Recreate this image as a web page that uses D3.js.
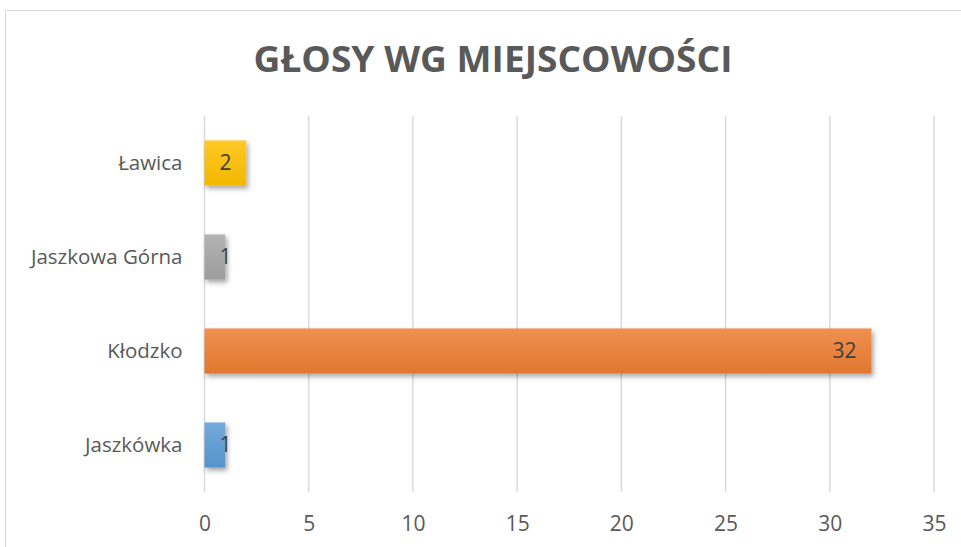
<!DOCTYPE html>
<html>
<head>
<meta charset="utf-8">
<script src="https://cdn.jsdelivr.net/npm/d3@7"></script>
<style>
  body { margin: 0; background: #fff; }
  svg { display: block; }
</style>
</head>
<body>
<svg id="chart"></svg>
<script>
// data
var categories = ['Jaszkówka', 'Kłodzko', 'Jaszkowa Górna', 'Ławica']
var values = [1, 32, 1, 2]
var colors = ['#5B9BD5', '#ED7D31', '#A5A5A5', '#FFC000']
var xTicks = [0, 5, 10, 15, 20, 25, 30, 35]

var W = 961, H = 547
var svg = d3.select('#chart').attr('width', W).attr('height', H)

var defs = svg.append('defs')
var filt = defs.append('filter').attr('id', 'shadow')
  .attr('x', '-20%').attr('y', '-20%').attr('width', '150%').attr('height', '160%')
filt.append('feDropShadow')
  .attr('dx', 2).attr('dy', 3).attr('stdDeviation', 2.5)
  .attr('flood-color', '#000').attr('flood-opacity', 0.35)

colors.forEach(function(c, i){
  var g = defs.append('linearGradient').attr('id', 'grad' + i)
    .attr('x1', 0).attr('y1', 0).attr('x2', 0).attr('y2', 1)
  g.append('stop').attr('offset', '0%').attr('stop-color', d3.interpolateRgb(c, '#fff')(0.15))
  g.append('stop').attr('offset', '100%').attr('stop-color', d3.interpolateRgb(c, '#000')(0.05))
})

// chart border
svg.append('rect')
  .attr('x', 5.5).attr('y', 10.5)
  .attr('width', 1000).attr('height', 600)
  .attr('fill', 'none').attr('stroke', '#d9d9d9')

// title
svg.append('text')
  .attr('x', 493).attr('y', 72)
  .attr('text-anchor', 'middle')
  .attr('font-family', 'Open Sans, sans-serif')
  .attr('font-weight', 'bold')
  .attr('font-size', 35)
  .attr('fill', '#595959')
  .attr('textLength', 479)
  .attr('lengthAdjust', 'spacingAndGlyphs')
  .text('GŁOSY WG MIEJSCOWOŚCI')

var x = d3.scaleLinear().domain([0, 35]).range([204.5, 934])
var y = d3.scaleBand().domain(categories.slice().reverse())
  .range([116, 492]).paddingInner(0.52).paddingOuter(0.26)

// gridlines
svg.append('g').selectAll('line')
  .data(xTicks)
  .join('line')
  .attr('x1', function(d){ return x(d) }).attr('x2', function(d){ return x(d) })
  .attr('y1', 116).attr('y2', 492)
  .attr('stroke', '#d9d9d9').attr('stroke-width', 1.5)

// x axis tick labels
var xAxis = svg.append('g')
  .attr('transform', 'translate(0,492)')
  .call(d3.axisBottom(x).tickValues(xTicks).tickSize(0).tickPadding(24))
xAxis.select('.domain').remove()
xAxis.selectAll('text')
  .attr('font-family', 'Open Sans, sans-serif')
  .attr('font-size', 21)
  .attr('fill', '#595959')

// y axis labels
var yAxis = svg.append('g')
  .attr('transform', 'translate(204.5,0)')
  .call(d3.axisLeft(y).tickSize(0).tickPadding(22))
yAxis.select('.domain').remove()
yAxis.selectAll('text')
  .attr('font-family', 'Open Sans, sans-serif')
  .attr('font-size', 20.5)
  .attr('fill', '#595959')

// bars
var data = categories.map(function(c, i){ return {cat: c, val: values[i], idx: i} })

svg.append('g').selectAll('rect')
  .data(data)
  .join('rect')
  .attr('x', x(0))
  .attr('y', function(d){ return y(d.cat) })
  .attr('width', function(d){ return x(d.val) - x(0) })
  .attr('height', y.bandwidth())
  .attr('fill', function(d){ return 'url(#grad' + d.idx + ')' })
  .attr('filter', 'url(#shadow)')

// value labels
svg.append('g').selectAll('text')
  .data(data)
  .join('text')
  .attr('x', function(d){ return Math.max(x(d.val) - 15, x(0) + 27) })
  .attr('y', function(d){ return y(d.cat) + y.bandwidth() / 2 })
  .attr('dy', '0.35em')
  .attr('text-anchor', 'end')
  .attr('font-family', 'Open Sans, sans-serif')
  .attr('font-size', 21)
  .attr('fill', '#404040')
  .text(function(d){ return d.val })
</script>
</body>
</html>
